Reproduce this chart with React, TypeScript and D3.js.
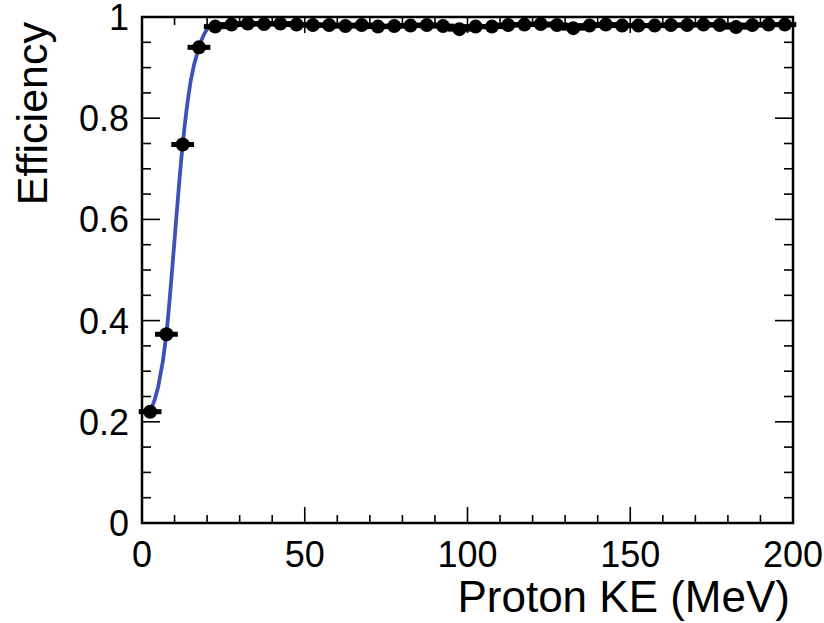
import React from "react";
import * as d3 from "d3";

// Data
const binCenters = [
  2.5, 7.5, 12.5, 17.5, 22.5, 27.5, 32.5, 37.5, 42.5, 47.5,
  52.5, 57.5, 62.5, 67.5, 72.5, 77.5, 82.5, 87.5, 92.5, 97.5,
  102.5, 107.5, 112.5, 117.5, 122.5, 127.5, 132.5, 137.5, 142.5, 147.5,
  152.5, 157.5, 162.5, 167.5, 172.5, 177.5, 182.5, 187.5, 192.5, 197.5,
];
const efficiency = [
  0.22, 0.373, 0.748, 0.94, 0.981, 0.985, 0.987, 0.986, 0.987, 0.985,
  0.984, 0.984, 0.982, 0.984, 0.981, 0.982, 0.983, 0.984, 0.982, 0.976,
  0.981, 0.981, 0.984, 0.985, 0.986, 0.984, 0.978, 0.983, 0.985, 0.983,
  0.983, 0.983, 0.984, 0.984, 0.985, 0.984, 0.98, 0.984, 0.985, 0.985,
];
const yErrors = [
  0.012, 0.012, 0.012, 0.01, 0.005, 0.004, 0.004, 0.004, 0.004, 0.004,
  0.004, 0.004, 0.004, 0.004, 0.004, 0.004, 0.004, 0.004, 0.004, 0.004,
  0.004, 0.004, 0.004, 0.004, 0.004, 0.004, 0.004, 0.004, 0.004, 0.004,
  0.004, 0.004, 0.004, 0.004, 0.004, 0.004, 0.004, 0.004, 0.004, 0.004,
];
const xErrors = 3.5;

const fitX = [2.5, 5, 7.5, 9, 10.5, 12.5, 15, 17.5, 19, 20.5];
const fitY = [0.22, 0.27, 0.373, 0.48, 0.6, 0.748, 0.875, 0.94, 0.965, 0.98];

const xMajorTicks = [0, 50, 100, 150, 200];
const xTickLabels = ["0", "50", "100", "150", "200"];
const yMajorTicks = [0, 0.2, 0.4, 0.6, 0.8, 1];
const yTickLabels = ["0", "0.2", "0.4", "0.6", "0.8", "1"];

const xTitle = "Proton KE (MeV)";
const yTitle = "Efficiency";

const W = 824;
const H = 623;
const M = { left: 142, right: 793, top: 17, bottom: 523 };
const FONT = "'Liberation Sans', Arial, Helvetica, sans-serif";

export default function App() {
  const x = d3.scaleLinear().domain([0, 200]).range([M.left, M.right]);
  const y = d3.scaleLinear().domain([0, 1]).range([M.bottom, M.top]);

  const xMinor = d3.range(0, 201, 10).filter((v) => v % 50 !== 0);
  const yMinor = d3.range(0, 21).map((i) => i * 0.05).filter((_, i) => i % 4 !== 0);

  const xMajLen = 16, xMinLen = 8;
  const yMajLen = 18, yMinLen = 9;

  const fitLine = d3
    .line<number>()
    .x((_, i) => x(fitX[i]))
    .y((d) => y(d))
    .curve(d3.curveMonotoneX)(fitY);

  const tickStroke = "#000";

  return (
    <svg
      width={W}
      height={H}
      style={{ position: "absolute", left: 0, top: 0, background: "#fff" }}
      fontFamily={FONT}
    >
      <rect x={0} y={0} width={W} height={H} fill="#fff" />

      {/* ticks: bottom & top */}
      {xMajorTicks.map((v) => (
        <g key={"xM" + v}>
          <line x1={x(v)} x2={x(v)} y1={M.bottom} y2={M.bottom - xMajLen} stroke={tickStroke} strokeWidth={1.6} />
          <line x1={x(v)} x2={x(v)} y1={M.top} y2={M.top + xMajLen} stroke={tickStroke} strokeWidth={1.6} />
        </g>
      ))}
      {xMinor.map((v) => (
        <g key={"xm" + v}>
          <line x1={x(v)} x2={x(v)} y1={M.bottom} y2={M.bottom - xMinLen} stroke={tickStroke} strokeWidth={1.6} />
          <line x1={x(v)} x2={x(v)} y1={M.top} y2={M.top + xMinLen} stroke={tickStroke} strokeWidth={1.6} />
        </g>
      ))}
      {/* ticks: left & right */}
      {yMajorTicks.map((v) => (
        <g key={"yM" + v}>
          <line x1={M.left} x2={M.left + yMajLen} y1={y(v)} y2={y(v)} stroke={tickStroke} strokeWidth={1.6} />
          <line x1={M.right} x2={M.right - yMajLen} y1={y(v)} y2={y(v)} stroke={tickStroke} strokeWidth={1.6} />
        </g>
      ))}
      {yMinor.map((v) => (
        <g key={"ym" + v}>
          <line x1={M.left} x2={M.left + yMinLen} y1={y(v)} y2={y(v)} stroke={tickStroke} strokeWidth={1.6} />
          <line x1={M.right} x2={M.right - yMinLen} y1={y(v)} y2={y(v)} stroke={tickStroke} strokeWidth={1.6} />
        </g>
      ))}

      {/* frame */}
      <rect
        x={M.left}
        y={M.top}
        width={M.right - M.left}
        height={M.bottom - M.top}
        fill="none"
        stroke="#000"
        strokeWidth={2.5}
      />

      {/* fit curve */}
      <path d={fitLine || ""} fill="none" stroke="#3f51b8" strokeWidth={3.8} />

      {/* data points */}
      {binCenters.map((c, i) => (
        <g key={"p" + i}>
          <line
            x1={x(c - xErrors)}
            x2={x(c + xErrors)}
            y1={y(efficiency[i])}
            y2={y(efficiency[i])}
            stroke="#000"
            strokeWidth={5}
          />
          <line
            x1={x(c)}
            x2={x(c)}
            y1={y(efficiency[i] - yErrors[i])}
            y2={y(efficiency[i] + yErrors[i])}
            stroke="#000"
            strokeWidth={3}
          />
          <circle cx={x(c)} cy={y(efficiency[i])} r={7} fill="#000" />
        </g>
      ))}

      {/* tick labels */}
      {xMajorTicks.map((v, i) => (
        <text key={"xl" + v} x={x(v)} y={567} textAnchor="middle" fontSize={36} fill="#000">
          {xTickLabels[i]}
        </text>
      ))}
      {yMajorTicks.map((v, i) => (
        <text
          key={"yl" + v}
          x={129}
          y={y(v)}
          dy="0.36em"
          textAnchor="end"
          fontSize={36}
          fill="#000"
        >
          {yTickLabels[i]}
        </text>
      ))}

      {/* axis titles */}
      <text x={790} y={612} textAnchor="end" fontSize={44} fill="#000">
        {xTitle}
      </text>
      <text
        transform={`translate(47, 22) rotate(-90)`}
        textAnchor="end"
        fontSize={43}
        fill="#000"
      >
        {yTitle}
      </text>
    </svg>
  );
}
